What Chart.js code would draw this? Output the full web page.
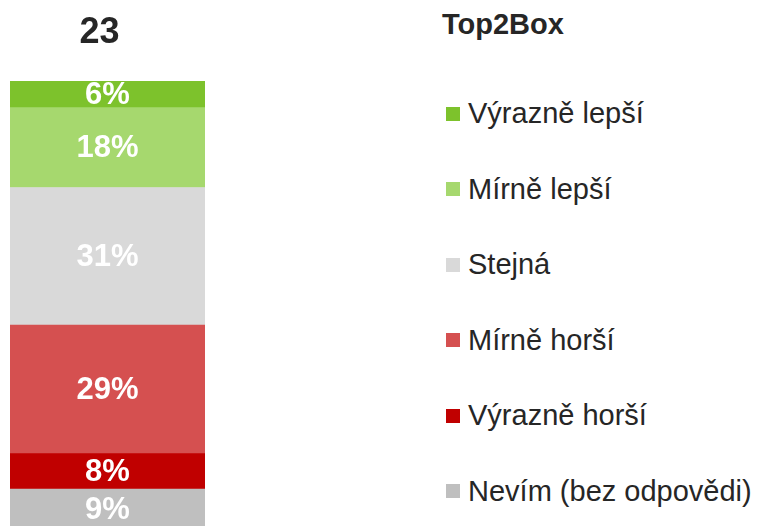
<!DOCTYPE html>
<html>
<head>
<meta charset="utf-8">
<script src="https://cdn.jsdelivr.net/npm/chart.js@4.4.1/dist/chart.umd.min.js"></script>
<style>
  html, body { margin: 0; padding: 0; background: #fff; overflow: hidden; width: 761px; height: 526px; }
  body { position: relative; font-family: "Liberation Sans", Arial, sans-serif; color: #262626; }
  #wrap { position: absolute; left: 0; top: 0; width: 215px; height: 529px; }
  #legendTitle { position: absolute; left: 442px; top: 8px; font-size: 29px; font-weight: bold; }
  #legend { position: absolute; left: 446px; top: 76px; }
  .item { height: 75.5px; display: flex; align-items: center; font-size: 29px; white-space: nowrap; }
  .box { width: 14px; height: 14px; margin-right: 8px; flex: none; }
</style>
</head>
<body>
<div id="wrap"><canvas id="myChart"></canvas></div>
<div id="legendTitle">Top2Box</div>
<div id="legend"></div>
<script>
const categorias = ['23'];
const series = ['Nevím (bez odpovědi)', 'Výrazně horší', 'Mírně horší', 'Stejná', 'Mírně lepší', 'Výrazně lepší'];
const valores = [9, 8, 29, 31, 18, 6];
const colores = ['#BFBFBF', '#C00000', '#D55050', '#D9D9D9', '#A6D86E', '#7DC22C'];
const legendaTitulo = 'Top2Box';

const datasets = series.map((nombre, i) => ({
    label: nombre,
    data: [valores[i]],
    backgroundColor: colores[i],
    borderWidth: 0,
    barPercentage: 1,
    categoryPercentage: 1
}));

const total = valores.reduce((a, b) => a + b, 0);

// etiquetas blancas en cada segmento
const etiquetas = {
    id: 'etiquetas',
    afterDatasetsDraw(chart) {
        const ctx = chart.ctx;
        ctx.save();
        ctx.font = 'bold 31px "Liberation Sans", Arial, sans-serif';
        ctx.fillStyle = '#ffffff';
        ctx.textAlign = 'center';
        ctx.textBaseline = 'middle';
        chart.data.datasets.forEach((ds, i) => {
            chart.getDatasetMeta(i).data.forEach((bar, j) => {
                const y = (bar.y + bar.base) / 2;
                ctx.fillText(ds.data[j] + '%', bar.x, y + 1);
            });
        });
        ctx.restore();
    }
};

new Chart(document.getElementById('myChart'), {
    type: 'bar',
    data: { labels: categorias, datasets: datasets },
    options: {
        responsive: true,
        maintainAspectRatio: false,
        animation: false,
        layout: { padding: { left: 10, right: 10, top: 0, bottom: 0 } },
        plugins: { legend: { display: false }, tooltip: { enabled: false } },
        scales: {
            x: {
                stacked: true,
                position: 'top',
                border: { display: false },
                grid: { display: false, drawTicks: false },
                afterFit: (scale) => { scale.height = 81; },
                ticks: {
                    color: '#262626',
                    labelOffset: -8,
                    padding: 30,
                    font: { family: '"Liberation Sans", Arial, sans-serif', size: 36, weight: 'bold', lineHeight: 1.0 }
                }
            },
            y: { stacked: true, display: false, min: 0, max: total }
        }
    },
    plugins: [etiquetas]
});

document.getElementById('legendTitle').textContent = legendaTitulo;
const leyenda = document.getElementById('legend');
for (let i = series.length - 1; i >= 0; i--) {
    const item = document.createElement('div');
    item.className = 'item';
    const box = document.createElement('span');
    box.className = 'box';
    box.style.background = colores[i];
    const txt = document.createElement('span');
    txt.textContent = series[i];
    item.appendChild(box);
    item.appendChild(txt);
    leyenda.appendChild(item);
}
</script>
</body>
</html>
